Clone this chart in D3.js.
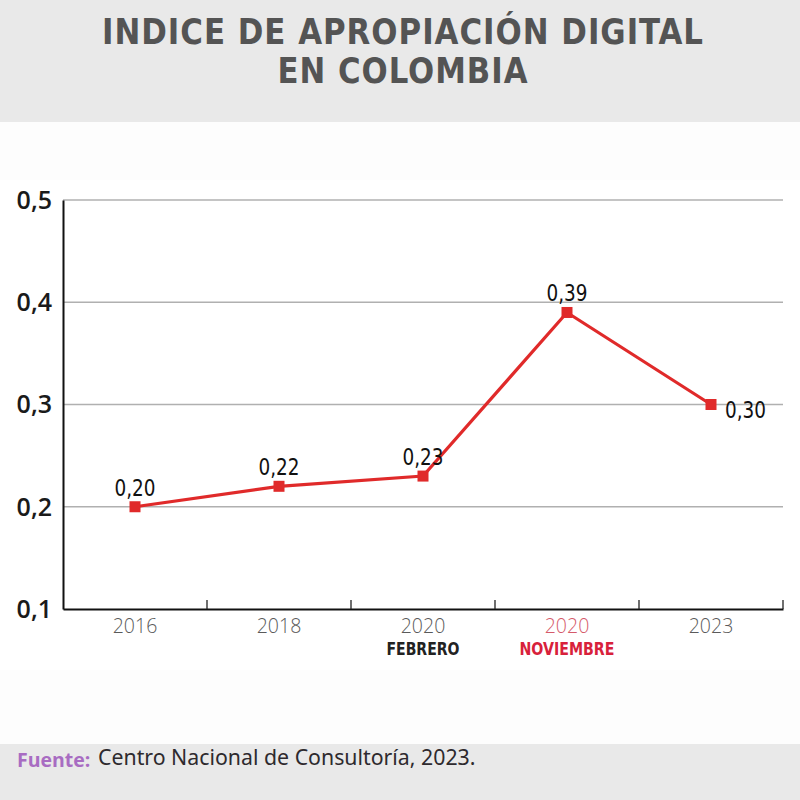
<!DOCTYPE html>
<html><head><meta charset="utf-8">
<script src="https://cdn.jsdelivr.net/npm/d3@7"></script>
<style>html,body{margin:0;padding:0;background:#fff}svg{display:block}</style>
</head><body>
<script>
const categories = ["2016","2018","2020","2020","2023"];
const subLabels = ["","","FEBRERO","NOVIEMBRE",""];
const values = [0.20,0.22,0.23,0.39,0.30];
const valueLabels = ["0,20","0,22","0,23","0,39","0,30"];
const yTicks = [0.1,0.2,0.3,0.4,0.5];
const yTickLabels = ["0,1","0,2","0,3","0,4","0,5"];
const titleLines = ["INDICE DE APROPIACIÓN DIGITAL","EN COLOMBIA"];
const sourceLabel = "Fuente:";
const sourceText = "Centro Nacional de Consultoría, 2023.";

const W=800,H=800;
const svg=d3.select("body").append("svg").attr("width",W).attr("height",H);
svg.append("rect").attr("width",W).attr("height",H).attr("fill","#fdfdfd");
svg.append("rect").attr("x",0).attr("y",180).attr("width",W).attr("height",490).attr("fill","#ffffff");
svg.append("rect").attr("width",W).attr("height",122).attr("fill","#e9e9e9");
svg.append("rect").attr("y",744).attr("width",W).attr("height",56).attr("fill","#e9e9e9");

const condensed="'DejaVu Sans Condensed','DejaVu Sans',sans-serif";
const tw=[602,251], tb=[44,83];
titleLines.forEach((t,i)=>{
  svg.append("text").attr("x",W/2+3).attr("y",tb[i]).attr("text-anchor","middle")
   .attr("font-family",condensed).attr("font-stretch","condensed").attr("font-weight","bold")
   .attr("font-size",35).attr("fill","#545454").attr("letter-spacing",1)
   .attr("textLength",tw[i]).attr("lengthAdjust","spacingAndGlyphs").text(t);
});

const x=d3.scaleBand().domain(d3.range(categories.length)).range([63,783]);
const y=d3.scaleLinear().domain([0.1,0.5]).range([609,200]);

// gridlines
svg.append("g").selectAll("line").data(yTicks.filter(d=>d>0.1)).join("line")
  .attr("x1",63).attr("x2",783).attr("y1",d=>y(d)).attr("y2",d=>y(d))
  .attr("stroke","#b0b0b0").attr("stroke-width",1.3);

// y axis
const yAxis=svg.append("g").attr("transform","translate(63,0)")
  .call(d3.axisLeft(y).tickValues(yTicks).tickSize(0).tickFormat((d,i)=>yTickLabels[i]));
yAxis.select(".domain").attr("stroke","#111").attr("stroke-width",2);
yAxis.selectAll("text").attr("x",-11).attr("dy","0.33em")
  .attr("font-family","'Open Sans',sans-serif").attr("font-weight",600)
  .attr("font-size",25).attr("fill","#1a1a1a");

// x axis
const xAxis=svg.append("g").attr("transform","translate(0,609)")
  .call(d3.axisBottom(x).tickSize(0).tickFormat(""));
xAxis.select(".domain").attr("stroke","#111").attr("stroke-width",2);
const bounds=d3.range(1,categories.length+1).map(i=>x.range()[0]+i*x.step());
svg.append("g").selectAll("line").data(bounds).join("line")
  .attr("x1",d=>d).attr("x2",d=>d).attr("y1",609).attr("y2",600)
  .attr("stroke","#222").attr("stroke-width",1.3);

const cx=i=>x(i)+x.bandwidth()/2;
svg.append("g").selectAll("text").data(categories).join("text")
  .attr("x",(d,i)=>cx(i)).attr("y",633).attr("text-anchor","middle")
  .attr("font-family","'Open Sans',sans-serif").attr("font-weight",300)
  .attr("font-size",19.5).attr("fill",(d,i)=>i===3?"#d55a6a":"#5a5a5a").text(d=>d);
const subW=[0,0,73,95,0];
svg.append("g").selectAll("text").data(subLabels).join("text")
  .attr("x",(d,i)=>cx(i)).attr("y",655).attr("text-anchor","middle")
  .attr("font-family",condensed).attr("font-stretch","condensed").attr("font-weight","bold")
  .attr("font-size",17).attr("fill",(d,i)=>i===3?"#d8213b":"#222")
  .each(function(d,i){ if(d) d3.select(this).attr("textLength",subW[i]).attr("lengthAdjust","spacingAndGlyphs"); })
  .text(d=>d);

// line
const line=d3.line().x((d,i)=>cx(i)).y(d=>y(d));
svg.append("path").datum(values).attr("d",line).attr("fill","none")
  .attr("stroke","#e02a2a").attr("stroke-width",3.2).attr("stroke-linejoin","miter");
svg.append("g").selectAll("rect").data(values).join("rect")
  .attr("x",(d,i)=>cx(i)-5.5).attr("y",d=>y(d)-5.5).attr("width",11).attr("height",11)
  .attr("fill","#e02a2a");

// value labels
svg.append("g").selectAll("text").data(values).join("text")
  .attr("x",(d,i)=>i===4?cx(i)+14:cx(i)).attr("y",(d,i)=>i===4?y(d)+13:y(d)-11)
  .attr("text-anchor",(d,i)=>i===4?"start":"middle")
  .attr("font-family",condensed).attr("font-stretch","condensed")
  .attr("font-size",23).attr("fill","#111")
  .attr("textLength",41).attr("lengthAdjust","spacingAndGlyphs")
  .text((d,i)=>valueLabels[i]);

// source
svg.append("text").attr("x",17).attr("y",767)
  .attr("font-family","'Open Sans',sans-serif").attr("font-weight",700)
  .attr("font-size",19.5).attr("fill","#a86cc2").text(sourceLabel);
svg.append("text").attr("x",98).attr("y",765)
  .attr("font-family","'Noto Sans',sans-serif")
  .attr("font-size",21.3).attr("fill","#2e2a2e").text(sourceText);
</script>
</body></html>
